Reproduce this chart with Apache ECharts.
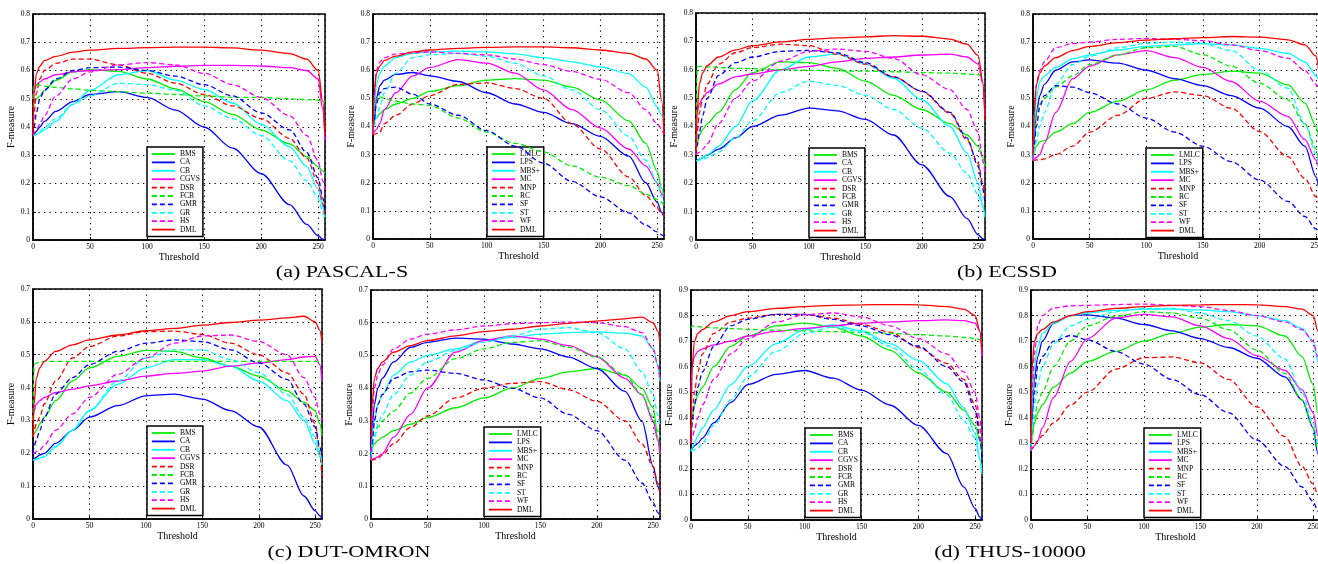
<!DOCTYPE html>
<html>
<head>
<meta charset="utf-8">
<title>F-measure vs Threshold</title>
<script src="https://cdn.jsdelivr.net/npm/echarts@6/dist/echarts.min.js"></script>
<style>
  html, body { margin: 0; padding: 0; background: #fff; }
  #chart { width: 1318px; height: 564px; }
</style>
</head>
<body>
<div id="chart"></div>
<script>
// threshold samples shared by every curve
const thresholds = [0, 1, 3, 6, 10, 20, 35, 50, 75, 100, 125, 150, 175, 200, 225, 240, 250, 254, 256];

const methodsA = ['BMS', 'CA', 'CB', 'CGVS', 'DSR', 'FCB', 'GMR', 'GR', 'HS', 'DML'];
const methodsB = ['LMLC', 'LPS', 'MBS+', 'MC', 'MNP', 'RC', 'SF', 'ST', 'WF', 'DML'];
const captions = ['(a) PASCAL-S', '(b) ECSSD', '(c) DUT-OMRON', '(d) THUS-10000'];

// (a) PASCAL-S
const pascal_DML  = [0.37, 0.52, 0.59, 0.615, 0.635, 0.65, 0.665, 0.672, 0.678, 0.681, 0.683, 0.683, 0.68, 0.672, 0.66, 0.64, 0.6, 0.49, 0.37];
const pascal_BMS  = [0.47, 0.49, 0.5, 0.51, 0.53, 0.565, 0.595, 0.603, 0.597, 0.57, 0.535, 0.49, 0.445, 0.39, 0.34, 0.295, 0.26, 0.245, 0.235];
const pascal_CA   = [0.37, 0.375, 0.385, 0.4, 0.42, 0.455, 0.49, 0.515, 0.525, 0.505, 0.46, 0.4, 0.325, 0.235, 0.125, 0.055, 0.015, 0.003, 0];
const pascal_CB   = [0.37, 0.37, 0.375, 0.38, 0.39, 0.42, 0.48, 0.53, 0.585, 0.6, 0.566, 0.533, 0.485, 0.41, 0.33, 0.26, 0.18, 0.12, 0.08];
const pascal_CGVS = [0.5, 0.53, 0.55, 0.56, 0.57, 0.585, 0.595, 0.6, 0.603, 0.61, 0.615, 0.618, 0.618, 0.616, 0.61, 0.6, 0.57, 0.46, 0.35];
const pascal_DSR  = [0.37, 0.45, 0.52, 0.57, 0.6, 0.625, 0.64, 0.64, 0.62, 0.59, 0.555, 0.515, 0.475, 0.43, 0.36, 0.29, 0.2, 0.13, 0.08];
const pascal_FCB  = [0.5, 0.55, 0.55, 0.548, 0.545, 0.54, 0.535, 0.53, 0.525, 0.52, 0.515, 0.51, 0.505, 0.505, 0.5, 0.497, 0.495, 0.49, 0.49];
const pascal_GMR  = [0.37, 0.4, 0.45, 0.5, 0.53, 0.57, 0.6, 0.61, 0.612, 0.6, 0.58, 0.55, 0.51, 0.45, 0.39, 0.31, 0.22, 0.15, 0.1];
const pascal_GR   = [0.37, 0.37, 0.375, 0.385, 0.4, 0.43, 0.48, 0.51, 0.555, 0.55, 0.53, 0.475, 0.43, 0.37, 0.28, 0.21, 0.15, 0.1, 0.07];
const pascal_HS   = [0.37, 0.38, 0.39, 0.41, 0.44, 0.51, 0.57, 0.595, 0.62, 0.628, 0.62, 0.59, 0.55, 0.505, 0.44, 0.37, 0.28, 0.21, 0.18];
const pascal_LMLC = [0.4, 0.42, 0.43, 0.445, 0.46, 0.48, 0.5, 0.525, 0.545, 0.565, 0.57, 0.565, 0.54, 0.495, 0.42, 0.34, 0.24, 0.18, 0.15];
const pascal_LPS  = [0.37, 0.42, 0.5, 0.545, 0.565, 0.585, 0.592, 0.58, 0.56, 0.52, 0.48, 0.45, 0.41, 0.365, 0.295, 0.2, 0.13, 0.095, 0.08];
const pascal_MBS  = [0.37, 0.45, 0.55, 0.59, 0.615, 0.645, 0.66, 0.665, 0.668, 0.665, 0.658, 0.645, 0.63, 0.612, 0.588, 0.54, 0.47, 0.44, 0.43];
const pascal_MC   = [0.37, 0.38, 0.39, 0.41, 0.46, 0.52, 0.58, 0.61, 0.638, 0.625, 0.59, 0.53, 0.46, 0.395, 0.32, 0.26, 0.2, 0.16, 0.15];
const pascal_MNP  = [0.37, 0.372, 0.375, 0.38, 0.41, 0.44, 0.48, 0.51, 0.55, 0.555, 0.535, 0.5, 0.41, 0.32, 0.22, 0.155, 0.11, 0.09, 0.08];
const pascal_RC   = [0.37, 0.44, 0.5, 0.505, 0.5, 0.49, 0.48, 0.475, 0.43, 0.38, 0.34, 0.31, 0.26, 0.22, 0.19, 0.16, 0.14, 0.13, 0.12];
const pascal_SF   = [0.37, 0.42, 0.48, 0.52, 0.535, 0.54, 0.515, 0.48, 0.44, 0.385, 0.33, 0.27, 0.205, 0.15, 0.093, 0.05, 0.025, 0.015, 0.01];
const pascal_ST   = [0.37, 0.4, 0.43, 0.47, 0.52, 0.59, 0.645, 0.655, 0.66, 0.65, 0.625, 0.58, 0.53, 0.46, 0.365, 0.28, 0.2, 0.15, 0.13];
const pascal_WF   = [0.37, 0.5, 0.6, 0.63, 0.645, 0.658, 0.662, 0.665, 0.66, 0.655, 0.64, 0.62, 0.595, 0.568, 0.52, 0.46, 0.41, 0.39, 0.37];

// (b) ECSSD
const ecssd_DML  = [0.3, 0.45, 0.55, 0.59, 0.615, 0.645, 0.67, 0.685, 0.698, 0.707, 0.712, 0.716, 0.72, 0.718, 0.708, 0.69, 0.65, 0.56, 0.42];
const ecssd_BMS  = [0.3, 0.34, 0.37, 0.39, 0.41, 0.45, 0.53, 0.59, 0.628, 0.625, 0.605, 0.56, 0.51, 0.46, 0.41, 0.37, 0.33, 0.29, 0.26];
const ecssd_CA   = [0.28, 0.282, 0.285, 0.29, 0.3, 0.32, 0.36, 0.4, 0.44, 0.465, 0.455, 0.425, 0.37, 0.265, 0.153, 0.076, 0.018, 0.005, 0];
const ecssd_CB   = [0.28, 0.28, 0.285, 0.29, 0.3, 0.33, 0.4, 0.49, 0.6, 0.645, 0.655, 0.62, 0.57, 0.494, 0.4, 0.306, 0.2, 0.12, 0.08];
const ecssd_CGVS = [0.4, 0.45, 0.48, 0.5, 0.52, 0.55, 0.575, 0.585, 0.6, 0.612, 0.628, 0.64, 0.645, 0.652, 0.655, 0.645, 0.62, 0.55, 0.44];
const ecssd_DSR  = [0.3, 0.38, 0.45, 0.5, 0.55, 0.62, 0.66, 0.678, 0.69, 0.685, 0.655, 0.62, 0.575, 0.524, 0.447, 0.353, 0.27, 0.2, 0.153];
const ecssd_FCB  = [0.3, 0.61, 0.612, 0.612, 0.61, 0.608, 0.605, 0.604, 0.6, 0.598, 0.596, 0.595, 0.593, 0.59, 0.588, 0.585, 0.582, 0.578, 0.575];
const ecssd_GMR  = [0.3, 0.33, 0.38, 0.44, 0.5, 0.58, 0.625, 0.645, 0.665, 0.668, 0.66, 0.625, 0.575, 0.525, 0.45, 0.36, 0.26, 0.18, 0.13];
const ecssd_GR   = [0.28, 0.28, 0.282, 0.285, 0.29, 0.31, 0.36, 0.42, 0.52, 0.56, 0.545, 0.51, 0.46, 0.394, 0.306, 0.235, 0.16, 0.12, 0.094];
const ecssd_HS   = [0.3, 0.305, 0.31, 0.32, 0.34, 0.41, 0.5, 0.56, 0.63, 0.665, 0.673, 0.665, 0.64, 0.582, 0.53, 0.46, 0.38, 0.28, 0.235];
const ecssd_LMLC = [0.28, 0.31, 0.33, 0.345, 0.35, 0.38, 0.41, 0.45, 0.49, 0.53, 0.565, 0.585, 0.597, 0.59, 0.548, 0.483, 0.4, 0.33, 0.3];
const ecssd_LPS  = [0.28, 0.35, 0.45, 0.51, 0.55, 0.6, 0.63, 0.637, 0.625, 0.6, 0.57, 0.545, 0.51, 0.465, 0.4, 0.33, 0.22, 0.15, 0.12];
const ecssd_MBS  = [0.28, 0.4, 0.5, 0.56, 0.58, 0.61, 0.64, 0.655, 0.672, 0.685, 0.69, 0.695, 0.69, 0.678, 0.66, 0.63, 0.58, 0.554, 0.52];
const ecssd_MC   = [0.28, 0.285, 0.29, 0.3, 0.34, 0.45, 0.57, 0.615, 0.655, 0.67, 0.645, 0.61, 0.56, 0.49, 0.436, 0.353, 0.28, 0.234, 0.2];
const ecssd_MNP  = [0.28, 0.28, 0.281, 0.282, 0.285, 0.3, 0.33, 0.38, 0.44, 0.5, 0.523, 0.51, 0.465, 0.382, 0.293, 0.215, 0.15, 0.11, 0.092];
const ecssd_RC   = [0.28, 0.35, 0.45, 0.48, 0.5, 0.54, 0.58, 0.62, 0.655, 0.68, 0.685, 0.655, 0.615, 0.554, 0.495, 0.41, 0.32, 0.24, 0.21];
const ecssd_SF   = [0.28, 0.33, 0.4, 0.47, 0.51, 0.545, 0.54, 0.52, 0.48, 0.43, 0.38, 0.33, 0.275, 0.21, 0.134, 0.08, 0.035, 0.018, 0.01];
const ecssd_ST   = [0.28, 0.31, 0.35, 0.4, 0.45, 0.55, 0.62, 0.65, 0.68, 0.695, 0.7, 0.695, 0.67, 0.6, 0.536, 0.41, 0.3, 0.24, 0.2];
const ecssd_WF   = [0.28, 0.45, 0.55, 0.6, 0.63, 0.68, 0.695, 0.7, 0.71, 0.713, 0.71, 0.705, 0.69, 0.67, 0.643, 0.6, 0.55, 0.52, 0.5];

// (c) DUT-OMRON
const dut_DML  = [0.25, 0.35, 0.43, 0.46, 0.48, 0.51, 0.53, 0.545, 0.56, 0.573, 0.58, 0.59, 0.598, 0.605, 0.612, 0.617, 0.6, 0.575, 0.54];
const dut_BMS  = [0.25, 0.26, 0.27, 0.29, 0.31, 0.36, 0.42, 0.46, 0.495, 0.513, 0.51, 0.49, 0.465, 0.435, 0.39, 0.355, 0.33, 0.29, 0.255];
const dut_CA   = [0.18, 0.183, 0.188, 0.195, 0.2, 0.23, 0.27, 0.31, 0.345, 0.375, 0.38, 0.365, 0.33, 0.28, 0.164, 0.07, 0.025, 0.01, 0];
const dut_CB   = [0.18, 0.18, 0.182, 0.186, 0.19, 0.22, 0.27, 0.33, 0.41, 0.46, 0.485, 0.485, 0.465, 0.42, 0.36, 0.3, 0.23, 0.19, 0.165];
const dut_CGVS = [0.3, 0.33, 0.35, 0.36, 0.37, 0.385, 0.395, 0.405, 0.42, 0.435, 0.443, 0.45, 0.465, 0.475, 0.485, 0.493, 0.495, 0.47, 0.42];
const dut_DSR  = [0.25, 0.27, 0.29, 0.31, 0.35, 0.42, 0.49, 0.525, 0.557, 0.57, 0.572, 0.562, 0.535, 0.5, 0.445, 0.38, 0.29, 0.2, 0.13];
const dut_FCB  = [0.3, 0.47, 0.475, 0.478, 0.48, 0.48, 0.48, 0.48, 0.48, 0.48, 0.48, 0.48, 0.48, 0.48, 0.48, 0.48, 0.48, 0.478, 0.475];
const dut_GMR  = [0.2, 0.22, 0.24, 0.27, 0.31, 0.38, 0.43, 0.47, 0.51, 0.535, 0.545, 0.54, 0.515, 0.475, 0.425, 0.35, 0.28, 0.22, 0.19];
const dut_GR   = [0.18, 0.18, 0.182, 0.186, 0.19, 0.22, 0.27, 0.33, 0.42, 0.49, 0.515, 0.515, 0.485, 0.445, 0.38, 0.31, 0.25, 0.2, 0.17];
const dut_HS   = [0.2, 0.2, 0.205, 0.21, 0.225, 0.27, 0.32, 0.37, 0.44, 0.49, 0.535, 0.557, 0.56, 0.54, 0.5, 0.43, 0.37, 0.32, 0.3];
const dut_LMLC = [0.2, 0.22, 0.23, 0.24, 0.25, 0.27, 0.29, 0.31, 0.34, 0.37, 0.4, 0.43, 0.45, 0.46, 0.44, 0.4, 0.34, 0.25, 0.2];
const dut_LPS  = [0.18, 0.28, 0.35, 0.4, 0.43, 0.48, 0.525, 0.54, 0.553, 0.55, 0.535, 0.52, 0.495, 0.46, 0.39, 0.3, 0.16, 0.1, 0.08];
const dut_MBS  = [0.18, 0.25, 0.3, 0.35, 0.38, 0.44, 0.48, 0.5, 0.52, 0.545, 0.555, 0.565, 0.57, 0.572, 0.568, 0.56, 0.52, 0.47, 0.42];
const dut_MC   = [0.18, 0.182, 0.185, 0.19, 0.2, 0.25, 0.32, 0.4, 0.51, 0.545, 0.56, 0.55, 0.53, 0.496, 0.43, 0.38, 0.3, 0.24, 0.2];
const dut_MNP  = [0.18, 0.18, 0.182, 0.185, 0.195, 0.23, 0.28, 0.315, 0.37, 0.4, 0.415, 0.42, 0.395, 0.36, 0.3, 0.23, 0.16, 0.11, 0.08];
const dut_RC   = [0.18, 0.22, 0.25, 0.28, 0.3, 0.33, 0.385, 0.43, 0.49, 0.52, 0.54, 0.545, 0.525, 0.495, 0.44, 0.38, 0.31, 0.27, 0.25];
const dut_SF   = [0.18, 0.22, 0.3, 0.35, 0.38, 0.43, 0.45, 0.455, 0.445, 0.425, 0.4, 0.37, 0.32, 0.27, 0.18, 0.11, 0.05, 0.02, 0];
const dut_ST   = [0.18, 0.21, 0.25, 0.29, 0.32, 0.38, 0.44, 0.48, 0.515, 0.54, 0.56, 0.58, 0.585, 0.57, 0.52, 0.45, 0.38, 0.32, 0.28];
const dut_WF   = [0.18, 0.3, 0.4, 0.44, 0.47, 0.52, 0.55, 0.565, 0.578, 0.59, 0.597, 0.6, 0.602, 0.6, 0.588, 0.57, 0.52, 0.47, 0.42];

// (d) THUS-10000
const thus_DML  = [0.3, 0.6, 0.7, 0.73, 0.745, 0.775, 0.8, 0.815, 0.828, 0.835, 0.84, 0.842, 0.843, 0.842, 0.835, 0.825, 0.8, 0.74, 0.66];
const thus_BMS  = [0.35, 0.4, 0.45, 0.49, 0.52, 0.6, 0.68, 0.72, 0.76, 0.77, 0.755, 0.72, 0.665, 0.576, 0.5, 0.43, 0.37, 0.31, 0.27];
const thus_CA   = [0.27, 0.28, 0.29, 0.3, 0.32, 0.38, 0.46, 0.53, 0.57, 0.585, 0.555, 0.508, 0.45, 0.37, 0.26, 0.13, 0.045, 0.012, 0];
const thus_CB   = [0.27, 0.28, 0.3, 0.33, 0.36, 0.43, 0.53, 0.6, 0.69, 0.745, 0.763, 0.74, 0.69, 0.625, 0.533, 0.44, 0.34, 0.24, 0.18];
const thus_CGVS = [0.5, 0.6, 0.64, 0.66, 0.67, 0.685, 0.7, 0.72, 0.738, 0.75, 0.76, 0.77, 0.775, 0.78, 0.783, 0.78, 0.77, 0.74, 0.64];
const thus_DSR  = [0.3, 0.4, 0.5, 0.58, 0.65, 0.73, 0.775, 0.79, 0.805, 0.805, 0.79, 0.765, 0.735, 0.675, 0.613, 0.55, 0.45, 0.36, 0.29];
const thus_FCB  = [0.75, 0.76, 0.758, 0.757, 0.755, 0.752, 0.749, 0.746, 0.743, 0.74, 0.737, 0.734, 0.73, 0.725, 0.72, 0.715, 0.71, 0.707, 0.705];
const thus_GMR  = [0.3, 0.38, 0.45, 0.52, 0.58, 0.68, 0.76, 0.785, 0.805, 0.805, 0.785, 0.76, 0.725, 0.68, 0.6, 0.54, 0.43, 0.32, 0.24];
const thus_GR   = [0.27, 0.27, 0.275, 0.28, 0.3, 0.37, 0.47, 0.56, 0.66, 0.73, 0.755, 0.735, 0.68, 0.59, 0.49, 0.39, 0.32, 0.24, 0.19];
const thus_HS   = [0.3, 0.32, 0.35, 0.4, 0.45, 0.55, 0.65, 0.71, 0.775, 0.803, 0.81, 0.795, 0.76, 0.71, 0.65, 0.58, 0.5, 0.4, 0.3];
const thus_LMLC = [0.27, 0.33, 0.38, 0.42, 0.45, 0.52, 0.575, 0.62, 0.66, 0.7, 0.73, 0.755, 0.765, 0.76, 0.72, 0.64, 0.53, 0.42, 0.35];
const thus_LPS  = [0.27, 0.4, 0.55, 0.64, 0.7, 0.77, 0.8, 0.803, 0.79, 0.765, 0.74, 0.71, 0.675, 0.633, 0.56, 0.47, 0.36, 0.26, 0.2];
const thus_MBS  = [0.27, 0.45, 0.6, 0.68, 0.73, 0.77, 0.8, 0.81, 0.82, 0.825, 0.825, 0.822, 0.815, 0.8, 0.78, 0.75, 0.7, 0.62, 0.55];
const thus_MC   = [0.27, 0.28, 0.29, 0.31, 0.36, 0.48, 0.62, 0.71, 0.79, 0.805, 0.795, 0.76, 0.71, 0.643, 0.585, 0.51, 0.42, 0.33, 0.29];
const thus_MNP  = [0.27, 0.28, 0.29, 0.31, 0.33, 0.38, 0.45, 0.5, 0.59, 0.635, 0.638, 0.615, 0.55, 0.443, 0.326, 0.21, 0.14, 0.1, 0.085];
const thus_RC   = [0.27, 0.32, 0.4, 0.46, 0.5, 0.6, 0.7, 0.76, 0.797, 0.815, 0.81, 0.79, 0.745, 0.665, 0.574, 0.47, 0.36, 0.28, 0.25];
const thus_SF   = [0.27, 0.38, 0.5, 0.6, 0.64, 0.7, 0.722, 0.705, 0.66, 0.61, 0.55, 0.49, 0.42, 0.313, 0.209, 0.13, 0.072, 0.035, 0.02];
const thus_ST   = [0.27, 0.35, 0.45, 0.53, 0.6, 0.69, 0.76, 0.785, 0.815, 0.828, 0.828, 0.81, 0.78, 0.72, 0.63, 0.5, 0.38, 0.3, 0.25];
const thus_WF   = [0.27, 0.5, 0.65, 0.76, 0.8, 0.83, 0.838, 0.84, 0.843, 0.845, 0.84, 0.835, 0.82, 0.8, 0.775, 0.745, 0.7, 0.64, 0.6];

// matlab style line colours, same order for both method sets
const lineColors = ['#00ee00', '#0000ff', '#00ffff', '#ff00ff', '#ff0000', '#00ee00', '#0000ff', '#00ffff', '#ff00ff', '#ff0000'];
const dashed = [false, false, false, false, true, true, true, true, true, false];

const FONT = '"Liberation Serif", "DejaVu Serif", serif';

// right-hand panels run past the edge of the page (cropped like the original figure)
const panels = [
  { names: methodsA, yMax: 0.8, grid: { left: 33, top: 14, width: 292, height: 226 }, legend: [147, 147],
    curves: [pascal_BMS, pascal_CA, pascal_CB, pascal_CGVS, pascal_DSR, pascal_FCB, pascal_GMR, pascal_GR, pascal_HS, pascal_DML] },
  { names: methodsB, yMax: 0.8, grid: { left: 373, top: 14, width: 291, height: 225 }, legend: [487, 147],
    curves: [pascal_LMLC, pascal_LPS, pascal_MBS, pascal_MC, pascal_MNP, pascal_RC, pascal_SF, pascal_ST, pascal_WF, pascal_DML] },
  { names: methodsA, yMax: 0.8, grid: { left: 696, top: 13, width: 289, height: 227 }, legend: [809, 148],
    curves: [ecssd_BMS, ecssd_CA, ecssd_CB, ecssd_CGVS, ecssd_DSR, ecssd_FCB, ecssd_GMR, ecssd_GR, ecssd_HS, ecssd_DML] },
  { names: methodsB, yMax: 0.8, grid: { left: 1033, top: 14, width: 290, height: 225 }, legend: [1146, 148],
    curves: [ecssd_LMLC, ecssd_LPS, ecssd_MBS, ecssd_MC, ecssd_MNP, ecssd_RC, ecssd_SF, ecssd_ST, ecssd_WF, ecssd_DML] },
  { names: methodsA, yMax: 0.7, grid: { left: 33, top: 289, width: 289, height: 230 }, legend: [147, 426],
    curves: [dut_BMS, dut_CA, dut_CB, dut_CGVS, dut_DSR, dut_FCB, dut_GMR, dut_GR, dut_HS, dut_DML] },
  { names: methodsB, yMax: 0.7, grid: { left: 371, top: 290, width: 289, height: 229 }, legend: [484, 427],
    curves: [dut_LMLC, dut_LPS, dut_MBS, dut_MC, dut_MNP, dut_RC, dut_SF, dut_ST, dut_WF, dut_DML] },
  { names: methodsA, yMax: 0.9, grid: { left: 691, top: 290, width: 291, height: 230 }, legend: [805, 428],
    curves: [thus_BMS, thus_CA, thus_CB, thus_CGVS, thus_DSR, thus_FCB, thus_GMR, thus_GR, thus_HS, thus_DML] },
  { names: methodsB, yMax: 0.9, grid: { left: 1031, top: 290, width: 289, height: 230 }, legend: [1144, 428],
    curves: [thus_LMLC, thus_LPS, thus_MBS, thus_MC, thus_MNP, thus_RC, thus_SF, thus_ST, thus_WF, thus_DML] }
];

const captionPos = [[342, 273], [1007, 273], [349, 553], [1010, 553]];

const grids = [], xAxes = [], yAxes = [], series = [], legends = [];
const dotted = { color: '#000', width: 1.1, type: [1.3, 4.2] };

panels.forEach((p, i) => {
  grids.push(Object.assign({
    show: true, borderColor: '#000', borderWidth: 1.5, backgroundColor: '#fff',
    containLabel: false, outerBoundsMode: 'none'
  }, p.grid));
  xAxes.push({
    type: 'value', gridIndex: i, min: 0, max: 256, interval: 50,
    name: 'Threshold', nameLocation: 'middle', nameGap: 10,
    nameTextStyle: { fontFamily: FONT, fontSize: 10, color: '#000' },
    axisLine: { onZero: false, lineStyle: { color: '#000', width: 1.5 } },
    axisTick: { inside: true, length: 3, lineStyle: { color: '#000' } },
    axisLabel: { fontFamily: FONT, fontSize: 7.5, color: '#000', margin: 3, showMaxLabel: false, hideOverlap: false },
    splitLine: { show: true, lineStyle: dotted }
  });
  yAxes.push({
    type: 'value', gridIndex: i, min: 0, max: p.yMax, interval: 0.1,
    name: 'F-measure', nameLocation: 'middle', nameGap: 11,
    nameTextStyle: { fontFamily: FONT, fontSize: 10, color: '#000' },
    axisLine: { show: true, lineStyle: { color: '#000', width: 1.5 } },
    axisTick: { show: true, inside: true, length: 3, lineStyle: { color: '#000' } },
    axisLabel: { fontFamily: FONT, fontSize: 7.5, color: '#000', margin: 3 },
    splitLine: { show: true, lineStyle: dotted }
  });
  p.names.forEach((name, k) => {
    series.push({
      type: 'line', name: name, xAxisIndex: i, yAxisIndex: i,
      data: thresholds.map((t, j) => [t, p.curves[k][j]]),
      symbol: 'none', showSymbol: false, symbolSize: 0,
      smooth: 0.3, smoothMonotone: 'x',
      lineStyle: { color: lineColors[k], width: 1.3, type: dashed[k] ? [5, 3] : 'solid' },
      itemStyle: { color: lineColors[k] },
      emphasis: { disabled: true },
      z: 2 + k
    });
  });
  legends.push({
    data: p.names, orient: 'vertical', left: p.legend[0], top: p.legend[1],
    itemWidth: 23, itemHeight: 8, itemGap: 0.4, padding: [3, 3, 3, 4],
    backgroundColor: '#fff', borderColor: '#000', borderWidth: 1.5,
    selectedMode: false, lineStyle: { width: 1.8 },
    itemStyle: { opacity: 0 },
    textStyle: { fontFamily: FONT, fontSize: 7.5, color: '#000', lineHeight: 8 }
  });
});

const chart = echarts.init(document.getElementById('chart'));
chart.setOption({
  animation: false,
  backgroundColor: '#fff',
  grid: grids,
  xAxis: xAxes,
  yAxis: yAxes,
  legend: legends,
  series: series,
  graphic: captions.map((txt, i) => ({
    type: 'text', x: captionPos[i][0], y: captionPos[i][1], scaleX: 1.3,
    style: { text: txt, font: '17px ' + FONT, fill: '#000', align: 'center', verticalAlign: 'middle' }
  }))
});
</script>
</body>
</html>
